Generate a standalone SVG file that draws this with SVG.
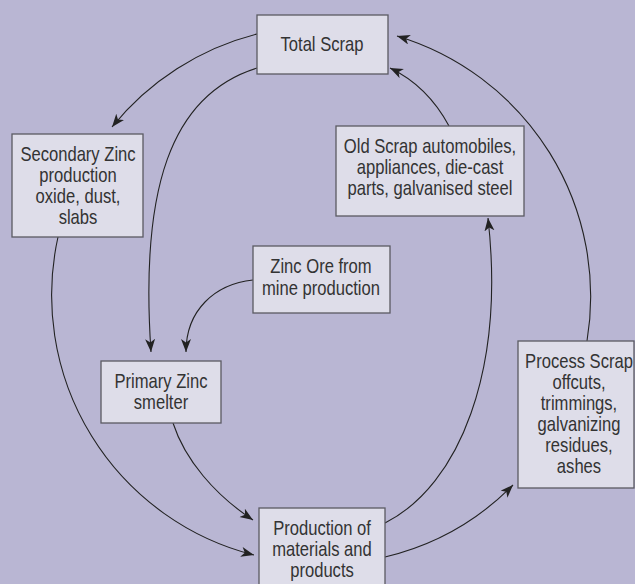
<svg xmlns="http://www.w3.org/2000/svg" width="635" height="584" viewBox="0 0 635 584">
<defs>
<style>
.box{fill:#dedde9;stroke:#5a5a62;stroke-width:1.3}
.t{font-family:"Liberation Sans",Arial,sans-serif;font-size:20px;fill:#333;text-anchor:middle}
.c{fill:none;stroke:#222;stroke-width:1.1;marker-end:url(#ah)}
</style>
<marker id="ah" markerUnits="userSpaceOnUse" markerWidth="14" markerHeight="12" refX="13" refY="5" orient="auto">
<path d="M0,0 L13,5 L0,10 L3.5,5 z" fill="#222"/>
</marker>
</defs>
<rect width="635" height="584" fill="#b9b6d3"/>
<g id="connectors">
<path class="c" d="M257,34 A272,272 0 0 0 112,127"/>
<path class="c" d="M58,237 A268,268 0 0 0 254,555"/>
<path class="c" d="M385,557 A266,266 0 0 0 513,485"/>
<path class="c" d="M587,341 A272,272 0 0 0 397,36"/>
<path class="c" d="M257,68 C170,95 140,190 151,352"/>
<path class="c" d="M253,280 C215,284 186,310 186,352"/>
<path class="c" d="M173,423 C185,460 215,495 253,520"/>
<path class="c" d="M385,523 C460,485 505,370 488,218"/>
<path class="c" d="M449,126 C435,100 415,80 390,68"/>
</g>
<g id="total-scrap">
<rect class="box" x="257" y="15" width="131" height="59"/>
<g transform="matrix(0.83,0,0,1,54.74,0)"><text class="t" x="322" y="51">Total Scrap</text></g>
</g>
<g id="secondary-zinc">
<rect class="box" x="12" y="134" width="131" height="103"/>
<g transform="matrix(0.83,0,0,1,13.26,0)">
<text class="t" x="78" y="161">Secondary Zinc</text>
<text class="t" x="78" y="182">production</text>
<text class="t" x="78" y="203">oxide, dust,</text>
<text class="t" x="78" y="224">slabs</text>
</g>
</g>
<g id="old-scrap">
<rect class="box" x="336" y="126" width="188" height="90"/>
<g transform="matrix(0.83,0,0,1,73.1,0)">
<text class="t" x="430" y="153">Old Scrap automobiles,</text>
<text class="t" x="430" y="174">appliances, die-cast</text>
<text class="t" x="430" y="195">parts, galvanised steel</text>
</g>
</g>
<g id="zinc-ore">
<rect class="box" x="253" y="246" width="137" height="67"/>
<g transform="matrix(0.83,0,0,1,54.57,0)">
<text class="t" x="321" y="273">Zinc Ore from</text>
<text class="t" x="321" y="295">mine production</text>
</g>
</g>
<g id="primary-zinc">
<rect class="box" x="101" y="361" width="120" height="62"/>
<g transform="matrix(0.83,0,0,1,27.37,0)">
<text class="t" x="161" y="388">Primary Zinc</text>
<text class="t" x="161" y="409">smelter</text>
</g>
</g>
<g id="process-scrap">
<rect class="box" x="518" y="341" width="116" height="147"/>
<g transform="matrix(0.83,0,0,1,98.43,0)">
<text class="t" x="579" y="368">Process Scrap</text>
<text class="t" x="579" y="389">offcuts,</text>
<text class="t" x="579" y="410">trimmings,</text>
<text class="t" x="579" y="431">galvanizing</text>
<text class="t" x="579" y="452">residues,</text>
<text class="t" x="579" y="473">ashes</text>
</g>
</g>
<g id="production">
<rect class="box" x="259" y="508" width="126" height="90"/>
<g transform="matrix(0.83,0,0,1,54.74,0)">
<text class="t" x="322" y="535">Production of</text>
<text class="t" x="322" y="556">materials and</text>
<text class="t" x="322" y="577">products</text>
</g>
</g>
</svg>
